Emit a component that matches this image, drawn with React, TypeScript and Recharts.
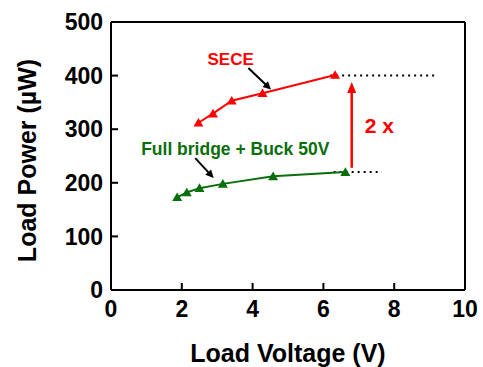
import {
  ComposedChart,
  Line,
  ReferenceDot,
  ReferenceLine,
  XAxis,
  YAxis,
} from 'recharts';

const seceVoltage = [2.47, 2.88, 3.41, 4.28, 6.33];
const secePower = [312, 329, 353, 367, 401];
const bridgeVoltage = [1.87, 2.14, 2.5, 3.16, 4.58, 6.62];
const bridgePower = [173, 182, 190, 198, 212, 220];

const xTicks = [0, 2, 4, 6, 8, 10];
const yTicks = [0, 100, 200, 300, 400, 500];

const RED = '#ff0000';
const GREEN = '#0a6e0a';
const FONT = '"Liberation Sans", Arial, sans-serif';

const seceData = seceVoltage.map((v, i) => ({ v, p: secePower[i] }));
const bridgeData = bridgeVoltage.map((v, i) => ({ v, p: bridgePower[i] }));

const triangle = (color: string) => (props: any) => {
  const { cx, cy, index } = props;
  if (cx == null || cy == null) return <g key={index} />;
  return (
    <polygon
      key={index}
      points={`${cx - 5},${cy + 3.8} ${cx + 5},${cy + 3.8} ${cx},${cy - 4.8}`}
      fill={color}
    />
  );
};

const arrow = (color: string, width: number, len: number, half: number) => (props: any) => {
  const { x1, y1, x2, y2 } = props;
  const dx = x2 - x1;
  const dy = y2 - y1;
  const d = Math.hypot(dx, dy) || 1;
  const ux = dx / d;
  const uy = dy / d;
  const bx = x2 - ux * len;
  const by = y2 - uy * len;
  return (
    <g>
      <line x1={x1} y1={y1} x2={bx + ux} y2={by + uy} stroke={color} strokeWidth={width} />
      <polygon
        points={`${x2},${y2} ${bx - uy * half},${by + ux * half} ${bx + uy * half},${by - ux * half}`}
        fill={color}
      />
    </g>
  );
};

const note = (text: string, color: string, size: number) => (props: any) => (
  <text
    x={props.cx}
    y={props.cy}
    dy="0.36em"
    textAnchor="middle"
    fill={color}
    fontSize={size}
    fontWeight="bold"
    fontFamily={FONT}
  >
    {text}
  </text>
);

const XTick = (props: any) => {
  const { x, y, payload } = props;
  return (
    <g>
      <line x1={x} y1={y} x2={x} y2={y - 7} stroke="#000" strokeWidth={2} />
      <text x={x} y={y + 26.5} textAnchor="middle" fontSize={23} fontWeight="bold" fontFamily={FONT} fill="#000">
        {payload.value}
      </text>
    </g>
  );
};

const YTick = (props: any) => {
  const { x, y, payload } = props;
  return (
    <g>
      <line x1={x} y1={y} x2={x + 7} y2={y} stroke="#000" strokeWidth={2} />
      <text x={x - 8} y={y + 8.2} textAnchor="end" fontSize={23} fontWeight="bold" fontFamily={FONT} fill="#000">
        {payload.value}
      </text>
    </g>
  );
};

const YLabel = (props: any) => {
  const { viewBox } = props;
  const x = viewBox.x + 27;
  const y = viewBox.y + viewBox.height / 2 + 4.5;
  return (
    <text
      x={x}
      y={y}
      dy="0.36em"
      transform={`rotate(-90, ${x}, ${y})`}
      textAnchor="middle"
      fontSize={25}
      fontWeight="bold"
      fontFamily={FONT}
      fill="#000"
    >
      Load Power (µW)
    </text>
  );
};

export default function App() {
  return (
    <div style={{ position: 'absolute', left: 0, top: 0, background: '#fff' }}>
      <ComposedChart width={483} height={367} margin={{ top: 22, right: 18, bottom: 0, left: 0 }}>
        <XAxis
          type="number"
          dataKey="v"
          domain={[0, 10]}
          ticks={xTicks}
          allowDataOverflow
          height={77}
          tickSize={0}
          tickMargin={0}
          tickLine={false}
          axisLine={{ stroke: '#000', strokeWidth: 2 }}
          tick={<XTick />}
          label={{
            value: 'Load Voltage (V)',
            position: 'insideBottom',
            offset: 5,
            fontSize: 25,
            fontWeight: 'bold',
            fontFamily: FONT,
            fill: '#000',
          }}
        />
        <YAxis
          type="number"
          domain={[0, 500]}
          ticks={yTicks}
          allowDataOverflow
          width={111}
          tickSize={0}
          tickMargin={0}
          tickLine={false}
          axisLine={{ stroke: '#000', strokeWidth: 2 }}
          tick={<YTick />}
          label={<YLabel />}
        />
        <ReferenceLine y={500} stroke="#000" strokeWidth={2} />
        <ReferenceLine x={10} stroke="#000" strokeWidth={2} />

        <ReferenceLine
          segment={[{ x: 6.19, y: 400 }, { x: 9.21, y: 400 }]}
          stroke="#000"
          strokeWidth={2}
          strokeDasharray="2 4"
        />
        <ReferenceLine
          segment={[{ x: 6.29, y: 220 }, { x: 7.65, y: 220 }]}
          stroke="#000"
          strokeWidth={2}
          strokeDasharray="2 4"
        />
        <ReferenceLine
          segment={[{ x: 6.8, y: 228 }, { x: 6.8, y: 388 }]}
          shape={arrow(RED, 2.5, 11, 4.5)}
        />
        <ReferenceLine
          segment={[{ x: 3.88, y: 414 }, { x: 4.52, y: 374 }]}
          shape={arrow('#000', 2, 8, 4)}
        />
        <ReferenceLine
          segment={[{ x: 2.38, y: 246 }, { x: 2.9, y: 209 }]}
          shape={arrow('#000', 2, 8, 4)}
        />

        <Line
          data={seceData}
          dataKey="p"
          stroke={RED}
          strokeWidth={2}
          dot={triangle(RED)}
          activeDot={false}
          isAnimationActive={false}
        />
        <Line
          data={bridgeData}
          dataKey="p"
          stroke={GREEN}
          strokeWidth={2}
          dot={triangle(GREEN)}
          activeDot={false}
          isAnimationActive={false}
        />

        <ReferenceDot x={3.38} y={432} r={0} shape={note('SECE', RED, 17)} />
        <ReferenceDot x={3.51} y={264} r={0} shape={note('Full bridge + Buck 50V', GREEN, 17.5)} />
        <ReferenceDot x={7.58} y={307} r={0} shape={note('2 x', RED, 21)} />
      </ComposedChart>
    </div>
  );
}
